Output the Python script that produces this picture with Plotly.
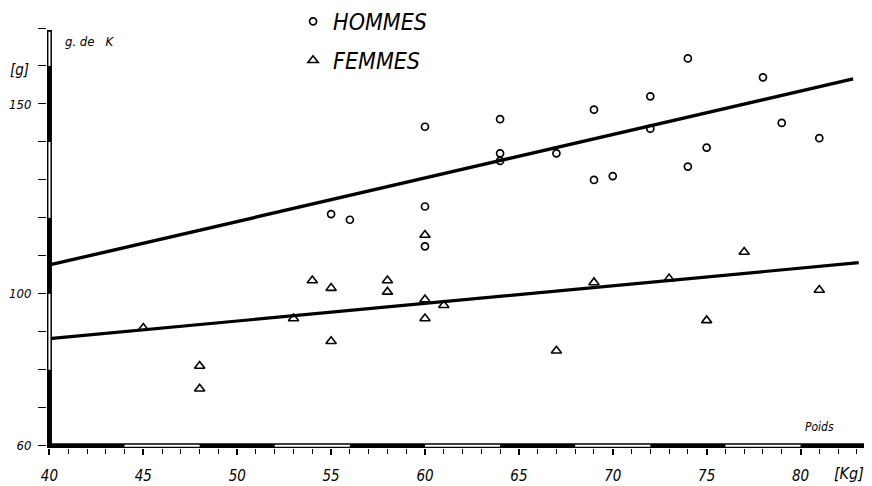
import plotly.graph_objects as go

# ---- data ----
hommes_kg = [55, 56, 60, 60, 60, 64, 64, 64, 67, 69, 69, 70, 72, 72, 74, 74, 75, 78, 79, 81]
hommes_g = [121, 119.5, 144, 123, 112.5, 146, 137, 135, 137, 148.5, 130, 131, 152, 143.5, 162, 133.5, 138.5, 157, 145, 141]

femmes_kg = [45, 48, 48, 53, 54, 55, 55, 58, 58, 60, 60, 60, 61, 67, 69, 73, 75, 77, 81]
femmes_g = [91, 81, 75, 93.5, 103.5, 101.5, 87.5, 103.5, 100.5, 115.5, 98.5, 93.5, 97, 85, 103, 104, 93, 111, 101]

hommes_fit_kg = [40, 82.8]
hommes_fit_g = [107.6, 156.6]
femmes_fit_kg = [40, 83.1]
femmes_fit_g = [88.2, 108.2]

x_ticks = [40, 45, 50, 55, 60, 65, 70, 75, 80]
y_ticks = [60, 100, 150]

FONT = "DejaVu Sans Condensed, Liberation Sans Narrow, DejaVu Sans, sans-serif"

fig = go.Figure()

fig.add_trace(go.Scatter(x=hommes_fit_kg, y=hommes_fit_g, mode="lines",
                         line=dict(color="black", width=3.4), showlegend=False,
                         hoverinfo="skip"))
fig.add_trace(go.Scatter(x=femmes_fit_kg, y=femmes_fit_g, mode="lines",
                         line=dict(color="black", width=3.2), showlegend=False,
                         hoverinfo="skip"))

fig.add_trace(go.Scatter(x=hommes_kg, y=hommes_g, mode="markers", name="HOMMES",
                         legendgroup="h",
                         marker=dict(symbol="circle-open", size=7, color="black",
                                     line=dict(color="black", width=1.7))))
fig.add_trace(go.Scatter(x=femmes_kg, y=femmes_g, mode="markers", name="FEMMES",
                         legendgroup="f",
                         marker=dict(symbol="triangle-up-open", size=9, color="black",
                                     line=dict(color="black", width=1.6))))

# ---- striped axis bars ----
shapes = []
shapes.append(dict(type="line", xref="x", yref="y", x0=40, x1=40, y0=59.4, y1=169.5,
                   line=dict(color="black", width=5), layer="above"))
shapes.append(dict(type="line", xref="x", yref="y", x0=39.9, x1=83.65, y0=60, y1=60,
                   line=dict(color="black", width=5), layer="above"))
for a, b in [(80, 100), (120, 140), (160, 169)]:
    shapes.append(dict(type="line", xref="x", yref="y", x0=40, x1=40, y0=a, y1=b,
                       line=dict(color="white", width=2), layer="above"))
for a, b in [(44, 48), (52, 56), (60, 64), (68, 72), (76, 80)]:
    shapes.append(dict(type="line", xref="x", yref="y", x0=a, x1=b, y0=60, y1=60,
                       line=dict(color="white", width=2), layer="above"))

annotations = [
    dict(text="[g]", x=-0.033, y=0.90, xref="paper", yref="paper", showarrow=False,
         xanchor="center", yanchor="middle",
         font=dict(family=FONT, size=15, color="black", style="italic")),
    dict(text="g. de&nbsp;&nbsp;&nbsp;K", x=0.019, y=0.967, xref="paper", yref="paper",
         showarrow=False, xanchor="left", yanchor="middle",
         font=dict(family=FONT, size=13, color="black", style="italic")),
    dict(text="Poids", x=0.939, y=0.05, xref="paper", yref="paper", showarrow=False,
         xanchor="center", yanchor="middle",
         font=dict(family=FONT, size=12, color="black", style="italic")),
    dict(text="[Kg]", x=0.974, y=-0.06, xref="paper", yref="paper", showarrow=False,
         xanchor="center", yanchor="middle",
         font=dict(family=FONT, size=16, color="black", style="italic")),
]

# the page body adds an 8px offset, so the figure is drawn 8px smaller
fig.update_layout(
    width=864, height=478,
    margin=dict(l=39, r=2, t=20, b=38, autoexpand=False),
    paper_bgcolor="white", plot_bgcolor="white",
    shapes=shapes, annotations=annotations,
    showlegend=True,
    legend=dict(x=0.299, y=1.067, xanchor="left", yanchor="top",
                bgcolor="rgba(0,0,0,0)", traceorder="grouped", tracegroupgap=6,
                font=dict(family=FONT, size=23, color="black", style="italic")),
    xaxis=dict(range=[39.87, 83.7], showgrid=False, zeroline=False, showline=False,
               automargin=False,
               tickvals=x_ticks, ticktext=[str(v) for v in x_ticks],
               ticks="outside", ticklen=6, tickwidth=1.5, tickcolor="black",
               ticklabelstandoff=8,
               minor=dict(dtick=1, tick0=40, ticks="outside", ticklen=5,
                          tickwidth=1.3, tickcolor="black", showgrid=False),
               tickfont=dict(family=FONT, size=15, color="black", style="italic")),
    yaxis=dict(range=[59.4, 170], showgrid=False, zeroline=False, showline=False,
               automargin=False,
               tickvals=y_ticks, ticktext=[str(v) for v in y_ticks],
               ticks="outside", ticklen=8, tickwidth=1.3, tickcolor="black",
               ticklabelstandoff=4,
               minor=dict(dtick=10, tick0=60, ticks="outside", ticklen=8,
                          tickwidth=1.3, tickcolor="black", showgrid=False),
               tickfont=dict(family=FONT, size=13, color="black", style="italic")),
)

fig.write_html("out.html")
